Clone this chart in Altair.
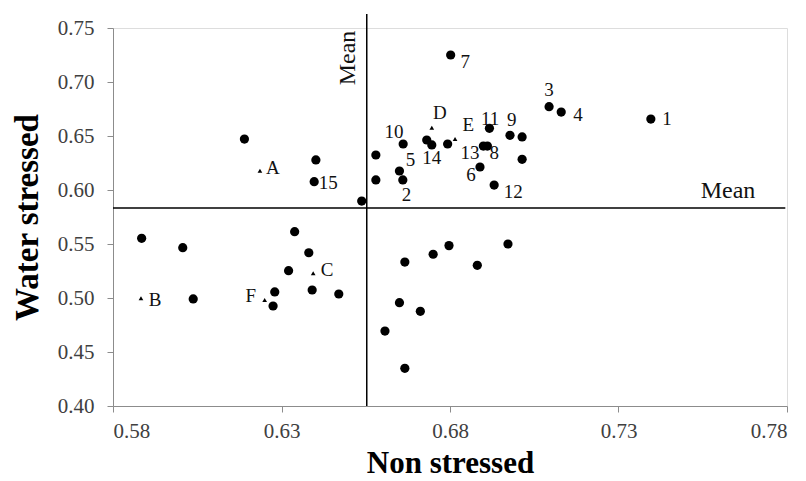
import altair as alt
import pandas as pd

# Circles (entries) - non stressed (x) vs water stressed (y)
circle_x = [0.7396, 0.7094, 0.7130, 0.6802, 0.6917, 0.6978, 0.7014, 0.7014, 0.6899, 0.6911,
            0.6889, 0.6931, 0.6793, 0.6731, 0.6746, 0.6661, 0.6580, 0.6580, 0.6650, 0.6660,
            0.6538, 0.6402, 0.6397, 0.6190, 0.5885, 0.6007, 0.6038, 0.6339, 0.6381, 0.6321,
            0.6280, 0.6275, 0.6391, 0.6470, 0.6666, 0.6750, 0.6797, 0.6972, 0.6881, 0.6650,
            0.6712, 0.6607, 0.6666]
circle_y = [0.6657, 0.6771, 0.6722, 0.7250, 0.6571, 0.6506, 0.6491, 0.6284, 0.6407, 0.6407,
            0.6213, 0.6046, 0.6426, 0.6463, 0.6417, 0.6426, 0.6324, 0.6093, 0.6176, 0.6093,
            0.5898, 0.6278, 0.6077, 0.6472, 0.5553, 0.5466, 0.4991, 0.5614, 0.5419, 0.5253,
            0.5056, 0.4926, 0.5074, 0.5037, 0.5333, 0.5405, 0.5485, 0.5500, 0.5303, 0.4957,
            0.4877, 0.4694, 0.4349]

# Triangles (checks)
tri_x = [0.6236, 0.5883, 0.6394, 0.6746, 0.6815, 0.6250]
tri_y = [0.6179, 0.4997, 0.5229, 0.6577, 0.6472, 0.4981]

# Point labels and where they sit (data units)
label_text = ["1", "2", "3", "4", "5", "6", "7", "8", "9", "10", "11", "12", "13", "14", "15",
              "A", "B", "C", "D", "E", "F"]
label_x = [0.7444, 0.6671, 0.7094, 0.7180, 0.6683, 0.6862, 0.6845, 0.6931, 0.6983, 0.6634,
           0.6919, 0.6988, 0.6859, 0.6746, 0.6439, 0.6274, 0.5925, 0.6435, 0.6770, 0.6854, 0.6209]
label_y = [0.6657, 0.5954, 0.6926, 0.6694, 0.6278, 0.6139, 0.7188, 0.6345, 0.6648, 0.6540,
           0.6655, 0.5984, 0.6340, 0.6296, 0.6068, 0.6201, 0.4981, 0.5260, 0.6710, 0.6602, 0.5019]

mean_x = 0.6553
mean_y = 0.5833

x_ticks = [0.58, 0.63, 0.68, 0.73, 0.78]
y_ticks = [0.40, 0.45, 0.50, 0.55, 0.60, 0.65, 0.70, 0.75]

FONT = "Liberation Serif"

circles = pd.DataFrame({"x": circle_x, "y": circle_y})
tris = pd.DataFrame({"x": tri_x, "y": tri_y})
labels = pd.DataFrame({"t": label_text, "x": label_x, "y": label_y})

xscale = alt.Scale(domain=[0.58, 0.78], nice=False, zero=False)
yscale = alt.Scale(domain=[0.40, 0.75], nice=False, zero=False)

xaxis = alt.Axis(values=x_ticks, format=".2f", title="Non stressed", grid=False,
                 domainColor="#8c8c8c", tickColor="#8c8c8c", tickSize=6,
                 labelFont=FONT, labelFontSize=21, labelColor="#404040", labelPadding=8,
                 titleFont=FONT, titleFontSize=31, titleFontWeight="bold", titleColor="#000000",
                 titleX=337, titleY=66, titleBaseline="alphabetic", titleAlign="center")
yaxis = alt.Axis(values=y_ticks, format=".2f", title="Water stressed", grid=False,
                 domainColor="#8c8c8c", tickColor="#8c8c8c", tickSize=6,
                 labelFont=FONT, labelFontSize=21, labelColor="#404040", labelPadding=13,
                 titleFont=FONT, titleFontSize=33, titleFontWeight="bold", titleColor="#000000",
                 titleX=-86, titleY=189, titleAngle=270, titleBaseline="middle", titleAlign="center")

base_pts = alt.Chart(circles).mark_point(filled=True, shape="circle", size=85, color="#000000", opacity=1).encode(
    x=alt.X("x:Q", scale=xscale, axis=xaxis),
    y=alt.Y("y:Q", scale=yscale, axis=yaxis),
)

tri_pts = alt.Chart(tris).mark_point(filled=True, shape="triangle-up", size=22, color="#000000", opacity=1).encode(
    x=alt.X("x:Q", scale=xscale),
    y=alt.Y("y:Q", scale=yscale),
)

text = alt.Chart(labels).mark_text(font=FONT, fontSize=19, color="#111111", align="center", baseline="middle").encode(
    x=alt.X("x:Q", scale=xscale),
    y=alt.Y("y:Q", scale=yscale),
    text="t:N",
)

vline = alt.Chart(pd.DataFrame({"x": [mean_x], "y": [0.40], "y2": [0.763]})).mark_rule(color="#000000", strokeWidth=1.5).encode(
    x=alt.X("x:Q", scale=xscale), y=alt.Y("y:Q", scale=yscale), y2="y2:Q")
hline = alt.Chart(pd.DataFrame({"y": [mean_y], "x": [0.58], "x2": [0.7795]})).mark_rule(color="#000000", strokeWidth=1.5).encode(
    y=alt.Y("y:Q", scale=yscale), x=alt.X("x:Q", scale=xscale), x2="x2:Q")

vmean_lbl = alt.Chart(pd.DataFrame({"x": [0.6497], "y": [0.7222], "t": ["Mean"]})).mark_text(
    font=FONT, fontSize=24, angle=270, color="#111111", align="center", baseline="middle").encode(
    x=alt.X("x:Q", scale=xscale), y=alt.Y("y:Q", scale=yscale), text="t:N")
hmean_lbl = alt.Chart(pd.DataFrame({"x": [0.7625], "y": [0.5995], "t": ["Mean"]})).mark_text(
    font=FONT, fontSize=24, color="#111111", align="center", baseline="middle").encode(
    x=alt.X("x:Q", scale=xscale), y=alt.Y("y:Q", scale=yscale), text="t:N")

chart = alt.layer(vline, hline, base_pts, tri_pts, text, vmean_lbl, hmean_lbl).properties(
    width=674, height=378,
    autosize=alt.AutoSizeParams(type="none"),
    padding={"left": 105, "top": 20, "right": 10, "bottom": 74},
).configure_view(stroke=None).configure_axis(
    labelFont=FONT, titleFont=FONT
).configure(font=FONT)

chart.save("out.html", embed_options={"renderer": "svg", "actions": False})
